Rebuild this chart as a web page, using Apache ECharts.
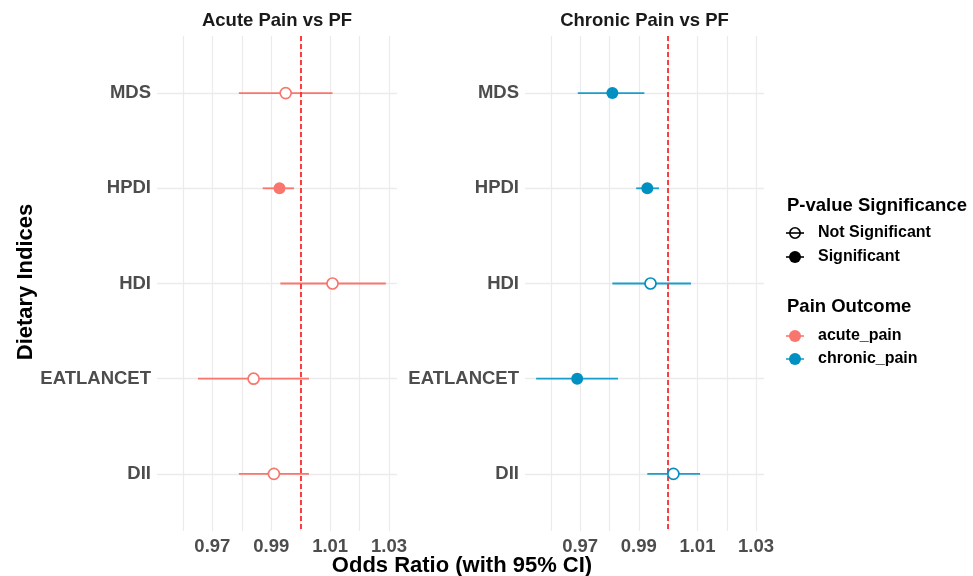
<!DOCTYPE html>
<html lang="en">
<head>
    <meta charset="utf-8">
    <title>Odds Ratio forest plot</title>
    <script type="text/javascript" src="https://cdn.jsdelivr.net/npm/echarts@6/dist/echarts.min.js"></script>
    <style>
        html, body { margin: 0; padding: 0; background: #fff; }
    </style>
</head>
<body>
<div id="main" style="width: 973px;height:576px;"></div>

<script type="text/javascript">
    // dietary indices, top to bottom
    var indices = ['MDS', 'HPDI', 'HDI', 'EATLANCET', 'DII'];

    // acute pain vs PF
    var acuteOR  = [0.9949, 0.9928, 1.0108, 0.9840, 0.9909];
    var acuteLo  = [0.9790, 0.9871, 0.9931, 0.9651, 0.9790];
    var acuteHi  = [1.0108, 0.9977, 1.0289, 1.0028, 1.0028];
    var acuteSig = [false, true, false, false, false];

    // chronic pain vs PF
    var chronicOR  = [0.9810, 0.9929, 0.9940, 0.9690, 1.0018];
    var chronicLo  = [0.9692, 0.9891, 0.9810, 0.9550, 0.9929];
    var chronicHi  = [0.9919, 0.9969, 1.0078, 0.9829, 1.0109];
    var chronicSig = [true, true, false, true, false];

    var xTickLabels = [0.97, 0.99, 1.01, 1.03];
    var xGridValues = [0.96, 0.97, 0.98, 0.99, 1.00, 1.01, 1.02, 1.03];

    var acuteColor = '#F8766D';
    var chronicColor = '#0091C2';
    var chronicBarColor = '#1A9ECB';
    var font = '"Liberation Sans", Arial, Helvetica, sans-serif';

    var myChart = echarts.init(document.getElementById('main'));

    function xAxisCfg(gridIndex) {
        return {
            type: 'value',
            gridIndex: gridIndex,
            min: 0.9512,
            max: 1.0327,
            axisLine: {show: false},
            axisTick: {show: false, customValues: xGridValues},
            axisLabel: {
                customValues: xTickLabels,
                formatter: function (v) { return v.toFixed(2); },
                color: '#4d4d4d',
                fontFamily: font,
                fontWeight: 'bold',
                fontSize: 18.5,
                margin: 6
            },
            splitLine: {show: true, lineStyle: {color: '#ebebeb', width: 1.2}}
        };
    }

    function yAxisCfg(gridIndex) {
        return {
            type: 'value',
            gridIndex: gridIndex,
            inverse: true,
            min: 0.4,
            max: 5.6,
            axisLine: {show: false},
            axisTick: {show: false, customValues: [1, 2, 3, 4, 5]},
            axisLabel: {
                customValues: [1, 2, 3, 4, 5],
                formatter: function (v) { return indices[Math.round(v) - 1] || ''; },
                color: '#4d4d4d',
                fontFamily: font,
                fontWeight: 'bold',
                fontSize: 18.5,
                padding: [3, 0, 0, 0],
                margin: 6
            },
            splitLine: {show: true, lineStyle: {color: '#ebebeb', width: 1.3}}
        };
    }

    function barData(lo, hi) {
        var out = [];
        for (var i = 0; i < lo.length; i++) {
            out.push([lo[i], hi[i], i + 1]);
        }
        return out;
    }

    function pointData(or, sig, want) {
        var out = [];
        for (var i = 0; i < or.length; i++) {
            if (sig[i] === want) out.push([or[i], i + 1]);
        }
        return out;
    }

    function barSeries(idx, lo, hi, color) {
        return {
            type: 'custom',
            xAxisIndex: idx,
            yAxisIndex: idx,
            data: barData(lo, hi),
            encode: {x: [0, 1], y: 2},
            silent: true,
            z: 3,
            renderItem: function (params, api) {
                var a = api.coord([api.value(0), api.value(2)]);
                var b = api.coord([api.value(1), api.value(2)]);
                return {
                    type: 'line',
                    shape: {x1: a[0], y1: a[1], x2: b[0], y2: b[1]},
                    style: {stroke: color, lineWidth: 1.8}
                };
            }
        };
    }

    function refLine(idx) {
        return {
            type: 'line',
            xAxisIndex: idx,
            yAxisIndex: idx,
            data: [],
            z: 2,
            markLine: {
                silent: true,
                symbol: 'none',
                label: {show: false},
                lineStyle: {color: '#ff2b2b', type: [5, 3], width: 1.8},
                data: [{xAxis: 1.0}]
            }
        };
    }

    function pointSeries(idx, or, sig, color) {
        return [
            {
                type: 'scatter',
                xAxisIndex: idx,
                yAxisIndex: idx,
                data: pointData(or, sig, true),
                symbol: 'circle',
                symbolSize: 12,
                z: 5,
                itemStyle: {color: color, opacity: 1}
            },
            {
                type: 'scatter',
                xAxisIndex: idx,
                yAxisIndex: idx,
                data: pointData(or, sig, false),
                symbol: 'circle',
                symbolSize: 11,
                z: 5,
                itemStyle: {color: '#fff', borderColor: color, borderWidth: 1.7, opacity: 1}
            }
        ];
    }

    var titleFont = 'bold 18.5px ' + font;
    var axisTitleFont = 'bold 22px ' + font;
    var legTitleFont = 'bold 18.5px ' + font;
    var legItemFont = 'bold 16px ' + font;

    var graphics = [
        {type: 'text', x: 277, y: 21, style: {text: 'Acute Pain vs PF', font: titleFont, fill: '#1a1a1a', textAlign: 'center', textVerticalAlign: 'middle'}},
        {type: 'text', x: 644.5, y: 21, style: {text: 'Chronic Pain vs PF', font: titleFont, fill: '#1a1a1a', textAlign: 'center', textVerticalAlign: 'middle'}},
        {type: 'text', x: 462, y: 566, style: {text: 'Odds Ratio (with 95% CI)', font: axisTitleFont, fill: '#000', textAlign: 'center', textVerticalAlign: 'middle'}},
        {type: 'text', x: 26, y: 282, rotation: Math.PI / 2, style: {text: 'Dietary Indices', font: axisTitleFont, fill: '#000', textAlign: 'center', textVerticalAlign: 'middle'}},

        // legend: p-value significance
        {type: 'text', x: 787, y: 206, style: {text: 'P-value Significance', font: legTitleFont, fill: '#000', textVerticalAlign: 'middle'}},
        {type: 'line', shape: {x1: 786, y1: 233, x2: 804, y2: 233}, style: {stroke: '#000', lineWidth: 1.6}},
        {type: 'circle', shape: {cx: 795, cy: 233, r: 5.2}, style: {fill: 'none', stroke: '#000', lineWidth: 1.6}},
        {type: 'text', x: 818, y: 233, style: {text: 'Not Significant', font: legItemFont, fill: '#000', textVerticalAlign: 'middle'}},
        {type: 'line', shape: {x1: 786, y1: 257, x2: 804, y2: 257}, style: {stroke: '#000', lineWidth: 1.6}},
        {type: 'circle', shape: {cx: 795, cy: 257, r: 6}, style: {fill: '#000'}},
        {type: 'text', x: 818, y: 257, style: {text: 'Significant', font: legItemFont, fill: '#000', textVerticalAlign: 'middle'}},

        // legend: pain outcome
        {type: 'text', x: 787, y: 307, style: {text: 'Pain Outcome', font: legTitleFont, fill: '#000', textVerticalAlign: 'middle'}},
        {type: 'line', shape: {x1: 786, y1: 336, x2: 804, y2: 336}, style: {stroke: acuteColor, lineWidth: 1.6}},
        {type: 'circle', shape: {cx: 795, cy: 336, r: 6}, style: {fill: acuteColor}},
        {type: 'text', x: 818, y: 336, style: {text: 'acute_pain', font: legItemFont, fill: '#000', textVerticalAlign: 'middle'}},
        {type: 'line', shape: {x1: 786, y1: 359, x2: 804, y2: 359}, style: {stroke: chronicBarColor, lineWidth: 1.6}},
        {type: 'circle', shape: {cx: 795, cy: 359, r: 6}, style: {fill: chronicColor}},
        {type: 'text', x: 818, y: 359, style: {text: 'chronic_pain', font: legItemFont, fill: '#000', textVerticalAlign: 'middle'}}
    ];

    var option = {
        backgroundColor: '#fff',
        animation: false,
        grid: [
            {left: 157, top: 36, width: 240, height: 495},
            {left: 525, top: 36, width: 239, height: 495}
        ],
        xAxis: [xAxisCfg(0), xAxisCfg(1)],
        yAxis: [yAxisCfg(0), yAxisCfg(1)],
        series: [
            refLine(0),
            refLine(1),
            barSeries(0, acuteLo, acuteHi, acuteColor),
            barSeries(1, chronicLo, chronicHi, chronicBarColor)
        ].concat(pointSeries(0, acuteOR, acuteSig, acuteColor))
         .concat(pointSeries(1, chronicOR, chronicSig, chronicColor)),
        graphic: graphics
    };

    myChart.setOption(option);
</script>
</body>
</html>
